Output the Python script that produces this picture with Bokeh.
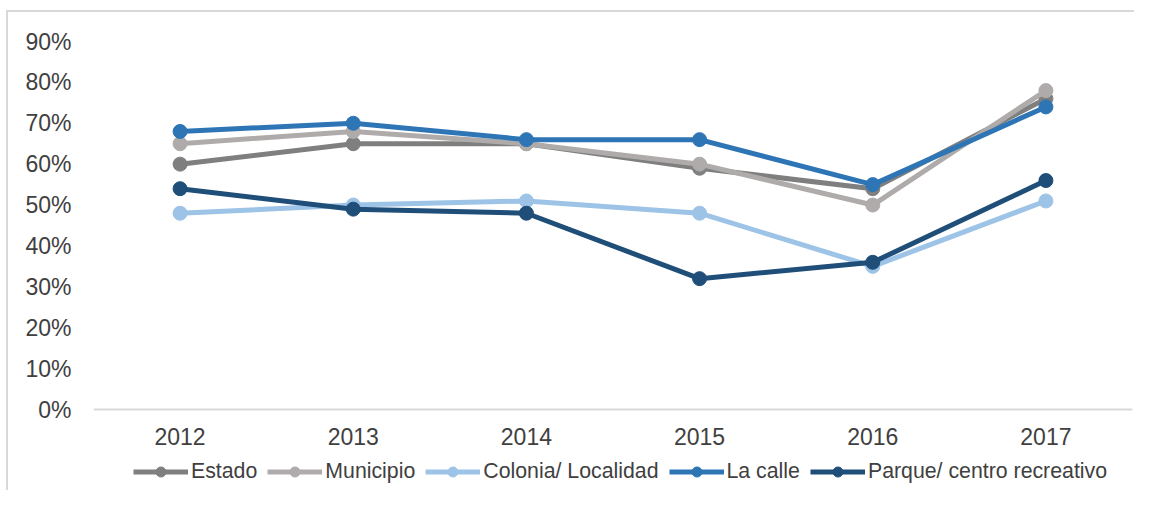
from bokeh.plotting import figure
from bokeh.models import Legend, LegendItem, FixedTicker, NumeralTickFormatter, ColumnDataSource
from bokeh.embed import file_html
from bokeh.resources import INLINE

years = ["2012", "2013", "2014", "2015", "2016", "2017"]
series_names = ["Estado", "Municipio", "Colonia/ Localidad", "La calle", "Parque/ centro recreativo"]
estado = [0.60, 0.65, 0.65, 0.59, 0.54, 0.76]
municipio = [0.65, 0.68, 0.65, 0.60, 0.50, 0.78]
colonia = [0.48, 0.50, 0.51, 0.48, 0.35, 0.51]
la_calle = [0.68, 0.70, 0.66, 0.66, 0.55, 0.74]
parque = [0.54, 0.49, 0.48, 0.32, 0.36, 0.56]
y_ticks = [0, 0.1, 0.2, 0.3, 0.4, 0.5, 0.6, 0.7, 0.8, 0.9]

colors = ["#7f7f7f", "#afabab", "#9dc3e6", "#2e75b6", "#1f4e79"]
series_values = [estado, municipio, colonia, la_calle, parque]

FONT = "Liberation Sans"
TXT = "#404040"

# frame spans y 41..490 px; 0% sits at 409 px (368 px for 90%)
y_start = -0.9 * 81 / 368

p = figure(x_range=years, y_range=(y_start, 0.9),
           width=1134, height=490,
           min_border_left=93, min_border_right=2,
           min_border_top=41, min_border_bottom=0,
           output_backend="svg", toolbar_location=None,
           background_fill_color="white", border_fill_alpha=0)
p.outline_line_color = None
p.xgrid.visible = False
p.ygrid.visible = False
p.x_range.range_padding = 0

p.yaxis.ticker = FixedTicker(ticks=y_ticks)
p.yaxis.formatter = NumeralTickFormatter(format="0%")
p.yaxis.axis_line_color = None
p.yaxis.major_tick_line_color = None
p.yaxis.minor_tick_line_color = None
p.yaxis.major_tick_out = 0
p.yaxis.major_label_standoff = 22
p.yaxis.major_label_text_font = FONT
p.yaxis.major_label_text_font_size = "23px"
p.yaxis.major_label_text_color = TXT

p.xaxis.fixed_location = 0
p.xaxis.axis_line_color = "#d9d9d9"
p.xaxis.axis_line_width = 2
p.xaxis.major_tick_line_color = None
p.xaxis.minor_tick_line_color = None
p.xaxis.major_tick_out = 0
p.xaxis.major_label_standoff = 18
p.xaxis.major_label_text_font = FONT
p.xaxis.major_label_text_font_size = "23px"
p.xaxis.major_label_text_color = TXT

items = []
for name, vals, col in zip(series_names, series_values, colors):
    src = ColumnDataSource(dict(x=years, y=vals))
    lr = p.line("x", "y", source=src, line_color=col, line_width=5, line_join="round")
    sr = p.scatter("x", "y", source=src, size=14, fill_color=col, line_color=col, marker="circle")
    items.append(LegendItem(label=name, renderers=[lr, sr]))

legend = Legend(items=items, orientation="horizontal", location=(40, 6),
                glyph_width=55, glyph_height=25, label_standoff=3, spacing=10,
                padding=0, margin=0, border_line_color=None, background_fill_alpha=0,
                label_text_font=FONT, label_text_font_size="21.3px", label_text_color=TXT,
                label_height=25)
p.add_layout(legend)

p.styles = {
    "background-color": "#ffffff",
    "background-image": "linear-gradient(#d9d9d9, #d9d9d9), linear-gradient(#d9d9d9, #d9d9d9)",
    "background-size": "2px 100%, 100% 2px",
    "background-position": "6px 10px, 6px 10px",
    "background-repeat": "no-repeat",
}

open("out.html", "w").write(file_html(p, INLINE))
